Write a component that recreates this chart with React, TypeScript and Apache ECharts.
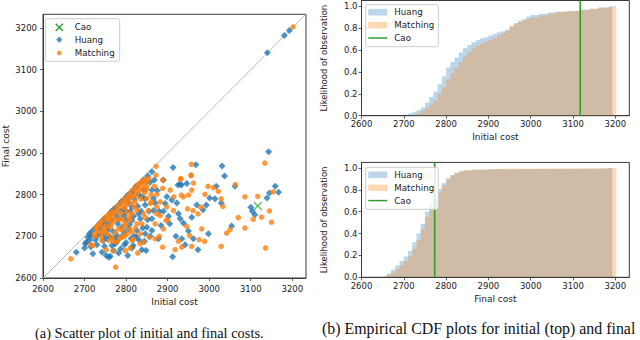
import React, { useEffect, useRef } from 'react';
import * as echarts from 'echarts';

// ---------- data ----------
const AXIS_MIN = 2600;
const AXIS_MAX = 3233;
const TICK_STEP = 100;
const CDF_MAX = 1.05;
const CDF_STEP = 0.2;

const CAO_INITIAL = 3117;
const CAO_FINAL = 2773;

const HUANG: number[][] = [
  [3193, 3194], [3181, 3182], [3140, 3141], [3143, 2903], [2913, 2865], [2968, 2872], [3031, 2869],
  [3037, 2845], [3062, 2820], [3159, 2820], [3167, 2806], [3145, 2804], [3139, 2792], [3100, 2770],
  [3104, 2760], [3110, 2752], [3054, 2725], [3029, 2780], [3014, 2790], [3017, 2820], [3001, 2792],
  [2993, 2775], [2985, 2764], [2998, 2706], [2973, 2668], [2962, 2694], [2950, 2713], [2938, 2732],
  [2942, 2680], [2912, 2651], [2934, 2694], [2930, 2742], [2958, 2746], [2970, 2775], [2946, 2827],
  [2925, 2823], [2933, 2823], [2922, 2780], [2926, 2754], [2910, 2787], [2902, 2748], [2884, 2726],
  [2868, 2835], [2866, 2791], [2862, 2742], [2878, 2694], [2862, 2714], [2866, 2762], [2898, 2795],
  [2894, 2779], [2890, 2835], [2930, 2825], [2842, 2836],
  [2680, 2662], [2700, 2672], [2720, 2658], [2704, 2686], [2708, 2698], [2712, 2706], [2742, 2662],
  [2752, 2654], [2762, 2652], [2770, 2666], [2774, 2682], [2804, 2654], [2814, 2672], [2817, 2678],
  [2838, 2668], [2848, 2666], [2825, 2698], [2850, 2722], [2750, 2744], [2734, 2722], [2738, 2706],
  [2760, 2734], [2790, 2722], [2814, 2738], [2834, 2742], [2846, 2775], [2838, 2795], [2826, 2819],
  [2862, 2811], [2800, 2794], [2784, 2777], [2762, 2756], [2806, 2791], [2814, 2771], [2830, 2754],
  [2794, 2750], [2806, 2718], [2826, 2714], [2846, 2706], [2778, 2702], [2754, 2694], [2702, 2682],
  [2712, 2690], [2787, 2670], [2779, 2690], [2758, 2650],
  [2812, 2805], [2824, 2820], [2837, 2830], [2802, 2797], [2790, 2785], [2772, 2767], [2746, 2741],
  [2736, 2731], [2726, 2720], [2718, 2712], [2852, 2845], [2862, 2855],
  [2740, 2725], [2755, 2715], [2765, 2740], [2780, 2730], [2795, 2765], [2800, 2740], [2810, 2760],
  [2820, 2790], [2830, 2800], [2845, 2790], [2855, 2760], [2870, 2780], [2880, 2760], [2775, 2750],
  [2760, 2700], [2730, 2700], [2745, 2690], [2790, 2700], [2800, 2685], [2820, 2700], [2840, 2720],
  [2730, 2680], [2715, 2675], [2765, 2760], [2775, 2768], [2790, 2784], [2805, 2800], [2820, 2814],
  [2805, 2780], [2815, 2805], [2785, 2760], [2750, 2730],
  [2735, 2715], [2748, 2702], [2757, 2725], [2768, 2712], [2772, 2695], [2783, 2742], [2797, 2710],
  [2808, 2728], [2818, 2748], [2828, 2772], [2836, 2760], [2852, 2740], [2858, 2700], [2844, 2688],
  [2832, 2690], [2812, 2695], [2796, 2680], [2782, 2660], [2766, 2678], [2748, 2676], [2726, 2692],
  [2716, 2700], [2742, 2735], [2800, 2760], [2843, 2812], [2858, 2830], [2875, 2810], [2890, 2760],
  [2905, 2730], [2920, 2700]
];

const MATCHING: number[][] = [
  [3202, 3203], [3134, 2876], [2872, 2868], [2957, 2873],
  [2957, 2846], [3063, 2824], [3154, 2807], [3117, 2796], [3086, 2795], [3106, 2741], [3126, 2746],
  [3145, 2761], [3150, 2734], [3136, 2672], [3086, 2720], [3070, 2745], [3050, 2716], [3042, 2708],
  [3029, 2676], [3033, 2772], [3029, 2790], [3022, 2808], [3010, 2817], [2997, 2820], [2990, 2801],
  [2980, 2770], [2973, 2754], [2982, 2718], [2976, 2692], [2989, 2688], [2958, 2676], [2953, 2702],
  [2946, 2724], [2934, 2674], [2918, 2668], [2926, 2688], [2948, 2766], [2961, 2762], [2950, 2799],
  [2958, 2811], [2962, 2828], [2931, 2837], [2933, 2799], [2938, 2795], [2914, 2762], [2898, 2771],
  [2896, 2738], [2890, 2718], [2888, 2815], [2888, 2835], [2872, 2847], [2874, 2801], [2882, 2783],
  [2874, 2754], [2870, 2730], [2888, 2674], [2870, 2694], [2882, 2750], [2906, 2811], [2874, 2771],
  [2862, 2783], [2932, 2839], [2956, 2847], [2850, 2831],
  [2667, 2646], [2715, 2680], [2724, 2706], [2752, 2668], [2775, 2626], [2778, 2686], [2798, 2666],
  [2842, 2686], [2834, 2682], [2856, 2698], [2730, 2718], [2736, 2728], [2750, 2745], [2758, 2752],
  [2768, 2760], [2750, 2710], [2762, 2722], [2771, 2738], [2782, 2718], [2800, 2730], [2806, 2746],
  [2826, 2730], [2842, 2754], [2854, 2762], [2858, 2779], [2850, 2791], [2834, 2811], [2830, 2826],
  [2842, 2836], [2846, 2827], [2850, 2819], [2854, 2839], [2822, 2818], [2808, 2802], [2792, 2786],
  [2776, 2770], [2790, 2771], [2798, 2783], [2810, 2796], [2822, 2783], [2826, 2762], [2802, 2758],
  [2814, 2754], [2786, 2742], [2794, 2738], [2802, 2706], [2814, 2710], [2834, 2706], [2818, 2694],
  [2790, 2698], [2766, 2698], [2742, 2690], [2774, 2710], [2720, 2678], [2769, 2665],
  [2814, 2809], [2822, 2814], [2832, 2825], [2840, 2833], [2801, 2795], [2784, 2778], [2762, 2755],
  [2753, 2747], [2744, 2738], [2738, 2732], [2732, 2726], [2728, 2721],
  [2740, 2700], [2760, 2745], [2780, 2760], [2795, 2725], [2810, 2740], [2820, 2770], [2835, 2790],
  [2845, 2805], [2815, 2690], [2790, 2715], [2765, 2730], [2755, 2705], [2745, 2720], [2800, 2775],
  [2825, 2800], [2812, 2780],
  [2738, 2710], [2752, 2725], [2758, 2738], [2770, 2750], [2778, 2740], [2786, 2755], [2796, 2768],
  [2804, 2786], [2816, 2795], [2828, 2808], [2838, 2820], [2848, 2812], [2860, 2800], [2868, 2820],
  [2846, 2745], [2838, 2730], [2822, 2720], [2808, 2718], [2796, 2700], [2784, 2695], [2770, 2688],
  [2760, 2690], [2748, 2715], [2732, 2712], [2725, 2700], [2810, 2672], [2828, 2660], [2880, 2700],
  [2900, 2740], [2915, 2795]
];

// Empirical CDFs (bin left edge -> cumulative fraction)
const INIT_HUANG_X = [2698, 2710, 2720, 2730, 2740, 2750, 2760, 2770, 2780, 2790,
  2800, 2810, 2820, 2830, 2840, 2850, 2860, 2870, 2880, 2890, 2900, 2910, 2920, 2930, 2940, 2950, 2960, 2970, 2980, 2990,
  3000, 3020, 3040, 3060, 3080, 3100, 3120, 3140, 3160, 3180, 3188, 3193];
const INIT_HUANG_P = [0.01, 0.02, 0.035, 0.05, 0.075, 0.12, 0.17, 0.22, 0.29, 0.36,
  0.44, 0.49, 0.53, 0.575, 0.615, 0.645, 0.67, 0.69, 0.705, 0.715, 0.73, 0.745, 0.76, 0.77, 0.785, 0.81, 0.845, 0.865, 0.88, 0.905,
  0.918, 0.93, 0.94, 0.947, 0.953, 0.958, 0.965, 0.975, 0.987, 0.993, 1.0, 1.0];

const INIT_MATCH_X = [2722, 2730, 2740, 2750, 2760, 2770, 2780, 2790,
  2800, 2810, 2820, 2830, 2840, 2850, 2860, 2870, 2880, 2890, 2900, 2910, 2920, 2930, 2940, 2950, 2960, 2970, 2980, 2990,
  3000, 3020, 3040, 3060, 3080, 3100, 3120, 3140, 3160, 3180, 3195, 3202];
const INIT_MATCH_P = [0.01, 0.02, 0.045, 0.065, 0.10, 0.14, 0.20, 0.26,
  0.33, 0.39, 0.44, 0.49, 0.54, 0.58, 0.61, 0.635, 0.655, 0.675, 0.69, 0.71, 0.73, 0.75, 0.775, 0.82, 0.835, 0.855, 0.87, 0.885,
  0.895, 0.91, 0.93, 0.945, 0.955, 0.96, 0.965, 0.975, 0.985, 0.99, 1.0, 1.0];

const FINAL_HUANG_X = [2651, 2660, 2670, 2680, 2690, 2700, 2710, 2720, 2730, 2740,
  2750, 2760, 2770, 2780, 2790, 2800, 2810, 2820, 2830, 2840, 2860, 2880, 2920, 3000, 3140, 3180, 3188, 3193];
const FINAL_HUANG_P = [0.01, 0.035, 0.07, 0.11, 0.15, 0.19, 0.24, 0.32, 0.40, 0.49,
  0.60, 0.68, 0.75, 0.81, 0.86, 0.905, 0.935, 0.955, 0.967, 0.975, 0.982, 0.987, 0.99, 0.992, 0.995, 0.998, 1.0, 1.0];

const FINAL_MATCH_X = [2648, 2660, 2670, 2680, 2690, 2700, 2710, 2720, 2730, 2740,
  2750, 2760, 2770, 2780, 2790, 2800, 2810, 2820, 2830, 2840, 2860, 2880, 2920, 3000, 3140, 3195, 3202];
const FINAL_MATCH_P = [0.005, 0.02, 0.045, 0.075, 0.11, 0.15, 0.19, 0.26, 0.34, 0.44,
  0.55, 0.635, 0.71, 0.78, 0.84, 0.89, 0.93, 0.955, 0.97, 0.978, 0.985, 0.99, 0.993, 0.995, 0.997, 1.0, 1.0];

// ---------- style ----------
const BLUE = '#1f77b4';
const ORANGE = '#ff7f0e';
const GREEN = '#2ca02c';
const FRAME = '#3a3a3a';
const TXT = '#1a1a1a';
const FONT = 'DejaVu Sans';
const SERIF = 'Liberation Serif';

const zip = (xs: number[], ys: number[]) => xs.slice(0, Math.min(xs.length, ys.length)).map((x, i) => [x, ys[i]]);

const costLabel = (v: number) => (Math.abs(v % TICK_STEP) < 1e-6 ? String(v) : '');
const cdfLabel = (v: number) => (Math.abs(v / CDF_STEP - Math.round(v / CDF_STEP)) < 1e-6 ? v.toFixed(1) : '');

const xSymbol = 'path://M1,0 L5,4 L9,0 L10,1 L6,5 L10,9 L9,10 L5,6 L1,10 L0,9 L4,5 L0,1 Z';

function costAxis(gridIndex: number, name: string, nameGap: number, margin: number) {
  return {
    type: 'value', gridIndex, min: AXIS_MIN, max: AXIS_MAX, interval: TICK_STEP,
    name, nameLocation: 'middle', nameGap,
    nameTextStyle: { fontFamily: FONT, fontSize: 9, color: TXT },
    axisLine: { show: true, lineStyle: { color: FRAME, width: 1 } },
    axisTick: { show: true, length: 3, lineStyle: { color: FRAME, width: 0.8 } },
    axisLabel: { formatter: costLabel, fontFamily: FONT, fontSize: 8.5, color: TXT, margin, showMaxLabel: false },
    splitLine: { show: false },
  };
}

function cdfAxis(gridIndex: number) {
  return {
    type: 'value', gridIndex, min: 0, max: CDF_MAX, interval: CDF_STEP,
    name: 'Likelihood of observation', nameLocation: 'middle', nameGap: 33.5,
    nameTextStyle: { fontFamily: FONT, fontSize: 8.5, color: TXT },
    axisLine: { show: true, lineStyle: { color: FRAME, width: 1 } },
    axisTick: { show: true, length: 3, lineStyle: { color: FRAME, width: 0.8 } },
    axisLabel: { formatter: cdfLabel, fontFamily: FONT, fontSize: 8.5, color: TXT, margin: 4, showMaxLabel: false },
    splitLine: { show: false },
  };
}

function cdfSeries(name: string, data: number[][], color: string, xi: number) {
  return {
    type: 'line', name, xAxisIndex: xi, yAxisIndex: xi, data, step: 'end', symbol: 'none',
    lineStyle: { width: 0, opacity: 0 }, areaStyle: { color, opacity: 0.3 }, silent: true,
  };
}

function legendBox(x: number, y: number, w: number, h: number) {
  return {
    type: 'rect', shape: { x, y, width: w, height: h, r: 2 },
    style: { fill: 'rgba(255,255,255,0.8)', stroke: '#cccccc', lineWidth: 1 }, z: 100,
  };
}
function legendText(x: number, y: number, text: string) {
  return {
    type: 'text', x, y, z: 101,
    style: { text, fontFamily: FONT, fontSize: 8.7, fill: TXT, align: 'left', verticalAlign: 'middle' },
  };
}

function cdfLegend(top: number) {
  const bx = 365.7, px = 368.3, pw = 19, tx = 394.3;
  const r1 = top + 7.5, r2 = top + 20.5, r3 = top + 33.3;
  return [
    legendBox(bx, top, 72.6, 42),
    { type: 'rect', z: 101, shape: { x: px, y: r1 - 3.3, width: pw, height: 6.6 }, style: { fill: BLUE, opacity: 0.3 } },
    { type: 'rect', z: 101, shape: { x: px, y: r2 - 3.3, width: pw, height: 6.6 }, style: { fill: ORANGE, opacity: 0.3 } },
    { type: 'line', z: 101, shape: { x1: px, y1: r3, x2: px + pw, y2: r3 }, style: { stroke: GREEN, lineWidth: 1.5 } },
    legendText(tx, r1, 'Huang'),
    legendText(tx, r2, 'Matching'),
    legendText(tx, r3, 'Cao'),
  ];
}

export default function App() {
  const ref = useRef<HTMLDivElement>(null);
  useEffect(() => {
    if (!ref.current) return;
    const chart = echarts.init(ref.current, undefined, { renderer: 'svg' });
    const mx = 59.3;
    const option: any = {
      animation: false,
      backgroundColor: '#ffffff',
      grid: [
        { left: 42.5, top: 14.3, width: 263.5, height: 263.7, show: true, borderColor: FRAME, borderWidth: 1 },
        { left: 361.5, top: 0.5, width: 267.8, height: 115.2, show: true, borderColor: FRAME, borderWidth: 1 },
        { left: 361.5, top: 162.4, width: 267.8, height: 114.9, show: true, borderColor: FRAME, borderWidth: 1 },
      ],
      xAxis: [
        costAxis(0, 'Initial cost', 18.5, 6),
        costAxis(1, 'Initial cost', 16.5, 4),
        costAxis(2, 'Final cost', 17, 4),
      ],
      yAxis: [
        { ...costAxis(0, 'Final cost', 33, 6) },
        cdfAxis(1),
        cdfAxis(2),
      ],
      series: [
        {
          type: 'line', name: 'diag', xAxisIndex: 0, yAxisIndex: 0, symbol: 'none', silent: true,
          data: [[AXIS_MIN, AXIS_MIN], [AXIS_MAX, AXIS_MAX]],
          lineStyle: { color: '#b8b8b8', width: 1 }, z: 1,
        },
        {
          type: 'scatter', name: 'Huang', xAxisIndex: 0, yAxisIndex: 0, data: HUANG,
          symbol: 'diamond', symbolSize: 7, itemStyle: { color: BLUE, opacity: 0.8 }, z: 2,
        },
        {
          type: 'scatter', name: 'Matching', xAxisIndex: 0, yAxisIndex: 0, data: MATCHING,
          symbol: 'circle', symbolSize: 5.5, itemStyle: { color: ORANGE, opacity: 0.8 }, z: 3,
        },
        {
          type: 'scatter', name: 'Cao', xAxisIndex: 0, yAxisIndex: 0, data: [[CAO_INITIAL, CAO_FINAL]],
          symbol: xSymbol, symbolSize: 9, itemStyle: { color: GREEN }, z: 4,
        },
        cdfSeries('Huang', zip(INIT_HUANG_X, INIT_HUANG_P), BLUE, 1),
        cdfSeries('Matching', zip(INIT_MATCH_X, INIT_MATCH_P), ORANGE, 1),
        {
          type: 'line', name: 'Cao', xAxisIndex: 1, yAxisIndex: 1, symbol: 'none', silent: true,
          data: [[CAO_INITIAL, 0], [CAO_INITIAL, CDF_MAX]], lineStyle: { color: GREEN, width: 1.6 }, z: 5,
        },
        cdfSeries('Huang', zip(FINAL_HUANG_X, FINAL_HUANG_P), BLUE, 2),
        cdfSeries('Matching', zip(FINAL_MATCH_X, FINAL_MATCH_P), ORANGE, 2),
        {
          type: 'line', name: 'Cao', xAxisIndex: 2, yAxisIndex: 2, symbol: 'none', silent: true,
          data: [[CAO_FINAL, 0], [CAO_FINAL, CDF_MAX]], lineStyle: { color: GREEN, width: 1.6 }, z: 5,
        },
      ],
      graphic: [
        // scatter legend
        legendBox(45.3, 18.7, 74.4, 42.6),
        { type: 'line', z: 101, shape: { x1: mx - 3.6, y1: 27.3 - 3.6, x2: mx + 3.6, y2: 27.3 + 3.6 }, style: { stroke: GREEN, lineWidth: 1.4 } },
        { type: 'line', z: 101, shape: { x1: mx - 3.6, y1: 27.3 + 3.6, x2: mx + 3.6, y2: 27.3 - 3.6 }, style: { stroke: GREEN, lineWidth: 1.4 } },
        { type: 'polygon', z: 101, shape: { points: [[mx, 36.6], [mx + 3.1, 39.7], [mx, 42.8], [mx - 3.1, 39.7]] }, style: { fill: BLUE, opacity: 0.8 } },
        { type: 'circle', z: 101, shape: { cx: mx, cy: 53, r: 2.4 }, style: { fill: ORANGE, opacity: 0.8 } },
        legendText(74.7, 27.3, 'Cao'),
        legendText(74.7, 39.7, 'Huang'),
        legendText(74.7, 53, 'Matching'),
        ...cdfLegend(4.7),
        ...cdfLegend(167.3),
        // captions
        {
          type: 'text', x: 35, y: 332.5,
          style: { text: '(a) Scatter plot of initial and final costs.', fontFamily: SERIF, fontSize: 14.4, fill: '#111', align: 'left', verticalAlign: 'middle' },
        },
        {
          type: 'text', x: 322, y: 328.5,
          style: { text: '(b) Empirical CDF plots for initial (top) and final', fontFamily: SERIF, fontSize: 15.9, fill: '#111', align: 'left', verticalAlign: 'middle' },
        },
      ],
    };
    chart.setOption(option);
    return () => chart.dispose();
  }, []);
  return <div ref={ref} style={{ position: 'fixed', left: 0, top: 0, width: 640, height: 340, background: '#fff' }} />;
}
